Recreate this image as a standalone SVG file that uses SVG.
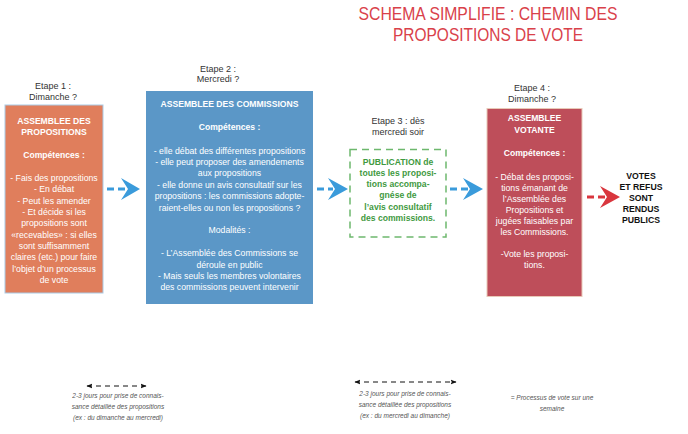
<svg xmlns="http://www.w3.org/2000/svg" width="688" height="434" viewBox="0 0 688 434">
<defs>
<style>
text{font-family:"Liberation Sans","Open Sans",Arial,sans-serif;text-anchor:middle}
.title{font-size:17.5px;fill:#D9414A}
.step{font-size:9px;fill:#333}
.wb{font-size:8.6px;fill:#fff;font-weight:bold}
.w{font-size:8.7px;fill:#fff}
.g{font-size:8.6px;fill:#3F9A3F;font-weight:bold}
.k{font-size:8.7px;fill:#111;font-weight:bold}
.note{font-size:6.5px;fill:#555;font-style:italic}
.shaft{stroke-width:3;stroke-dasharray:7,4;fill:none}
</style>
<marker id="ah" viewBox="0 0 10 10" refX="9" refY="5" markerWidth="6" markerHeight="6" orient="auto-start-reverse">
<path d="M0,1 L10,5 L0,9 L2,5 Z" fill="#111"/>
</marker>
</defs>
<rect width="688" height="434" fill="#fff"/>
<g id="title">
<text class="title" x="488" y="20" textLength="259" lengthAdjust="spacingAndGlyphs">SCHEMA SIMPLIFIE : CHEMIN DES</text>
<text class="title" x="488" y="41" textLength="190" lengthAdjust="spacingAndGlyphs">PROPOSITIONS DE VOTE</text>
</g>
<g id="step1">
<text class="step" x="53" y="89">Etape 1 :</text>
<text class="step" x="53" y="100">Dimanche ?</text>
</g>
<g id="node-assemblee-propositions">
<rect x="5" y="105" width="98" height="188" fill="#E07E5C" stroke="#A9CBE6" stroke-width="1"/>
<text class="wb" x="54" y="124">ASSEMBLEE DES</text>
<text class="wb" x="54" y="135">PROPOSITIONS</text>
<text class="wb" x="54" y="158">Compétences :</text>
<text class="w" x="54" y="181">- Fais des propositions</text>
<text class="w" x="54" y="192">- En débat</text>
<text class="w" x="54" y="203.5">- Peut les amender</text>
<text class="w" x="54" y="215">- Et décide si les</text>
<text class="w" x="54" y="226">propositions sont</text>
<text class="w" x="54" y="237.5">«recevables» : si elles</text>
<text class="w" x="54" y="249">sont suffisamment</text>
<text class="w" x="54" y="260">claires (etc.) pour faire</text>
<text class="w" x="54" y="271.5">l’objet d’un processus</text>
<text class="w" x="54" y="283">de vote</text>
</g>
<g id="step2">
<text class="step" x="218" y="72">Etape 2 :</text>
<text class="step" x="218" y="82">Mercredi ?</text>
</g>
<g id="node-assemblee-commissions">
<rect x="146" y="91" width="167" height="213" fill="#5B97C7"/>
<text class="wb" x="229.5" y="107">ASSEMBLEE DES COMMISSIONS</text>
<text class="wb" x="229.5" y="130">Compétences :</text>
<text class="w" x="229.5" y="154">- elle débat des différentes propositions</text>
<text class="w" x="229.5" y="165">- elle peut proposer des amendements</text>
<text class="w" x="229.5" y="176">aux propositions</text>
<text class="w" x="229.5" y="187.5">- elle donne un avis consultatif sur les</text>
<text class="w" x="229.5" y="199">propositions : les commissions adopte-</text>
<text class="w" x="229.5" y="210.5">raient-elles ou non les propositions ?</text>
<text class="w" x="229.5" y="233">Modalités :</text>
<text class="w" x="229.5" y="256">- L’Assemblée des Commissions se</text>
<text class="w" x="229.5" y="267.5">déroule en public</text>
<text class="w" x="229.5" y="279">- Mais seuls les membres volontaires</text>
<text class="w" x="229.5" y="290">des commissions peuvent intervenir</text>
</g>
<g id="step3">
<text class="step" x="398" y="124">Etape 3 : dès</text>
<text class="step" x="398" y="135">mercredi soir</text>
</g>
<g id="node-publication">
<rect x="350" y="149.5" width="96" height="87.5" fill="none" stroke="#6DB86D" stroke-width="1.5" stroke-dasharray="7,5"/>
<text class="g" x="398" y="165">PUBLICATION de</text>
<text class="g" x="398" y="176">toutes les proposi-</text>
<text class="g" x="398" y="187">tions accompa-</text>
<text class="g" x="398" y="198">gnése de</text>
<text class="g" x="398" y="209.5">l’avis consultatif</text>
<text class="g" x="398" y="221">des commissions.</text>
</g>
<g id="step4">
<text class="step" x="532" y="91">Etape 4 :</text>
<text class="step" x="532" y="102">Dimanche ?</text>
</g>
<g id="node-assemblee-votante">
<rect x="487" y="108.5" width="95" height="188" fill="#BE4E5A" stroke="#E8C9B8" stroke-width="1"/>
<text class="wb" x="534.5" y="121">ASSEMBLEE</text>
<text class="wb" x="534.5" y="133">VOTANTE</text>
<text class="wb" x="534.5" y="156">Compétences :</text>
<text class="w" x="534.5" y="180">- Débat des proposi-</text>
<text class="w" x="534.5" y="191">tions émanant de</text>
<text class="w" x="534.5" y="202">l’Assemblée des</text>
<text class="w" x="534.5" y="213">Propositions et</text>
<text class="w" x="534.5" y="224">jugées faisables par</text>
<text class="w" x="534.5" y="235">les Commissions.</text>
<text class="w" x="534.5" y="257">-Vote les proposi-</text>
<text class="w" x="534.5" y="268">tions.</text>
</g>
<g id="node-votes">
<text class="k" x="641" y="179">VOTES</text>
<text class="k" x="641" y="190">ET REFUS</text>
<text class="k" x="641" y="201">SONT</text>
<text class="k" x="641" y="212">RENDUS</text>
<text class="k" x="641" y="223">PUBLICS</text>
</g>
<g id="connectors">
<line class="shaft" x1="107" y1="189" x2="125" y2="189" stroke="#3A9BDB"/>
<path d="M121,178 L140,189 L121,200 L128,189 Z" fill="#3A9BDB"/>
<line class="shaft" x1="317" y1="189" x2="333" y2="189" stroke="#3A9BDB"/>
<path d="M328,178 L348,189 L328,200 L335,189 Z" fill="#3A9BDB"/>
<line class="shaft" x1="450" y1="189" x2="468" y2="189" stroke="#3A9BDB"/>
<path d="M463,178 L483,189 L463,200 L470,189 Z" fill="#3A9BDB"/>
<line class="shaft" x1="587" y1="197" x2="605" y2="197" stroke="#D9363E"/>
<path d="M600,186 L620,197 L600,208 L607,197 Z" fill="#D9363E"/>
<line x1="87" y1="386" x2="146" y2="386" stroke="#111" stroke-width="1" stroke-dasharray="5,4" marker-start="url(#ah)" marker-end="url(#ah)"/>
<line x1="355" y1="382" x2="456" y2="382" stroke="#111" stroke-width="1" stroke-dasharray="5,4" marker-start="url(#ah)" marker-end="url(#ah)"/>
</g>
<g id="notes">
<text class="note" x="118" y="398">2-3 jours pour prise de connais-</text>
<text class="note" x="118" y="409">sance détaillée des propositions</text>
<text class="note" x="118" y="420">(ex : du dimanche au mercredi)</text>
<text class="note" x="405" y="396">2-3 jours pour prise de connais-</text>
<text class="note" x="405" y="407">sance détaillée des propositions</text>
<text class="note" x="405" y="418">(ex : du mercredi au dimanche)</text>
<text class="note" x="552" y="400">= Processus de vote sur une</text>
<text class="note" x="552" y="411">semaine</text>
</g>
</svg>
